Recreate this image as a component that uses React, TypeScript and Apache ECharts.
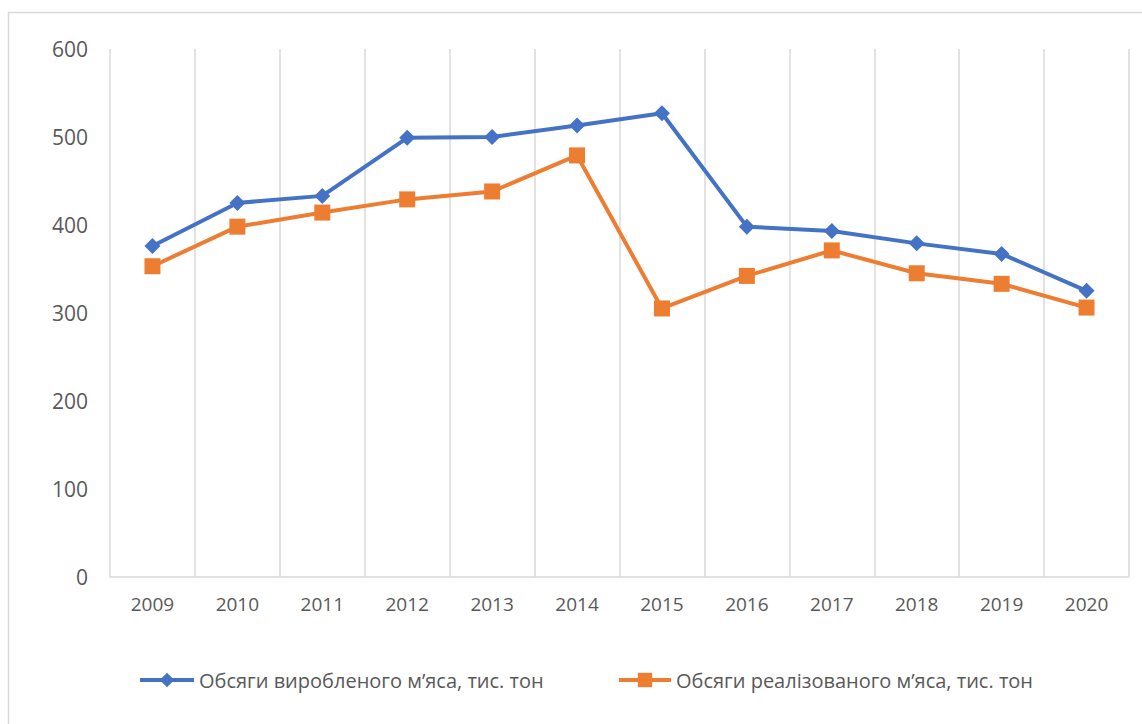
import React, { useEffect, useRef } from "react";
import * as echarts from "echarts";

const years = ["2009", "2010", "2011", "2012", "2013", "2014", "2015", "2016", "2017", "2018", "2019", "2020"];
const produced = [376, 425, 433, 499, 500, 513, 527, 398, 393, 379, 367, 325];
const sold = [353, 398, 414, 429, 438, 479, 305, 342, 371, 345, 333, 306];
const seriesNames = ["Обсяги виробленого м’яса, тис. тон", "Обсяги реалізованого м’яса, тис. тон"];

export default function App() {
  const ref = useRef<HTMLDivElement>(null);
  useEffect(() => {
    document.body.style.margin = "0";
    const chart = echarts.init(ref.current!, null, { renderer: "svg" });
    const font = "'Open Sans', 'Noto Sans', sans-serif";
    chart.setOption({
      animation: false,
      backgroundColor: "#ffffff",
      graphic: [
        {
          type: "rect",
          shape: { x: 8.5, y: 12.5, width: 1200, height: 800 },
          style: { fill: "none", stroke: "#d9d9d9", lineWidth: 1.5 },
          silent: true,
        },
      ],
      grid: { left: 110, right: 13, top: 49, bottom: 147.3 },
      xAxis: {
        type: "category",
        data: years,
        boundaryGap: true,
        axisLine: { show: true, lineStyle: { color: "#d9d9d9", width: 1.5 } },
        axisTick: { show: false },
        splitLine: { show: true, lineStyle: { color: "#d9d9d9", width: 1.5 } },
        axisLabel: { color: "#595959", fontSize: 19, fontFamily: font, margin: 18 },
      },
      yAxis: {
        type: "value",
        min: 0,
        max: 600,
        interval: 100,
        axisLine: { show: false },
        axisTick: { show: false },
        splitLine: { show: false },
        axisLabel: { color: "#595959", fontSize: 21, fontFamily: font, margin: 22 },
      },
      legend: [
        {
          data: [seriesNames[0]],
          left: 138,
          top: 670,
          padding: 0,
          itemWidth: 54,
          itemHeight: 18,
          lineStyle: { width: 4 },
          textStyle: { color: "#595959", fontSize: 20, fontFamily: font },
        },
        {
          data: [seriesNames[1]],
          left: 617,
          top: 670,
          padding: 0,
          itemWidth: 52,
          itemHeight: 18,
          lineStyle: { width: 4 },
          textStyle: { color: "#595959", fontSize: 20, fontFamily: font },
        },
      ],
      series: [
        {
          name: seriesNames[0],
          type: "line",
          data: produced,
          symbol: "diamond",
          symbolSize: 16,
          showAllSymbol: true,
          lineStyle: { color: "#4472C4", width: 4 },
          itemStyle: { color: "#4472C4" },
        },
        {
          name: seriesNames[1],
          type: "line",
          data: sold,
          symbol: "rect",
          symbolSize: 16,
          showAllSymbol: true,
          lineStyle: { color: "#ED7D31", width: 4 },
          itemStyle: { color: "#ED7D31" },
        },
      ],
    });
    return () => chart.dispose();
  }, []);
  return <div ref={ref} style={{ width: 1142, height: 724 }} />;
}
